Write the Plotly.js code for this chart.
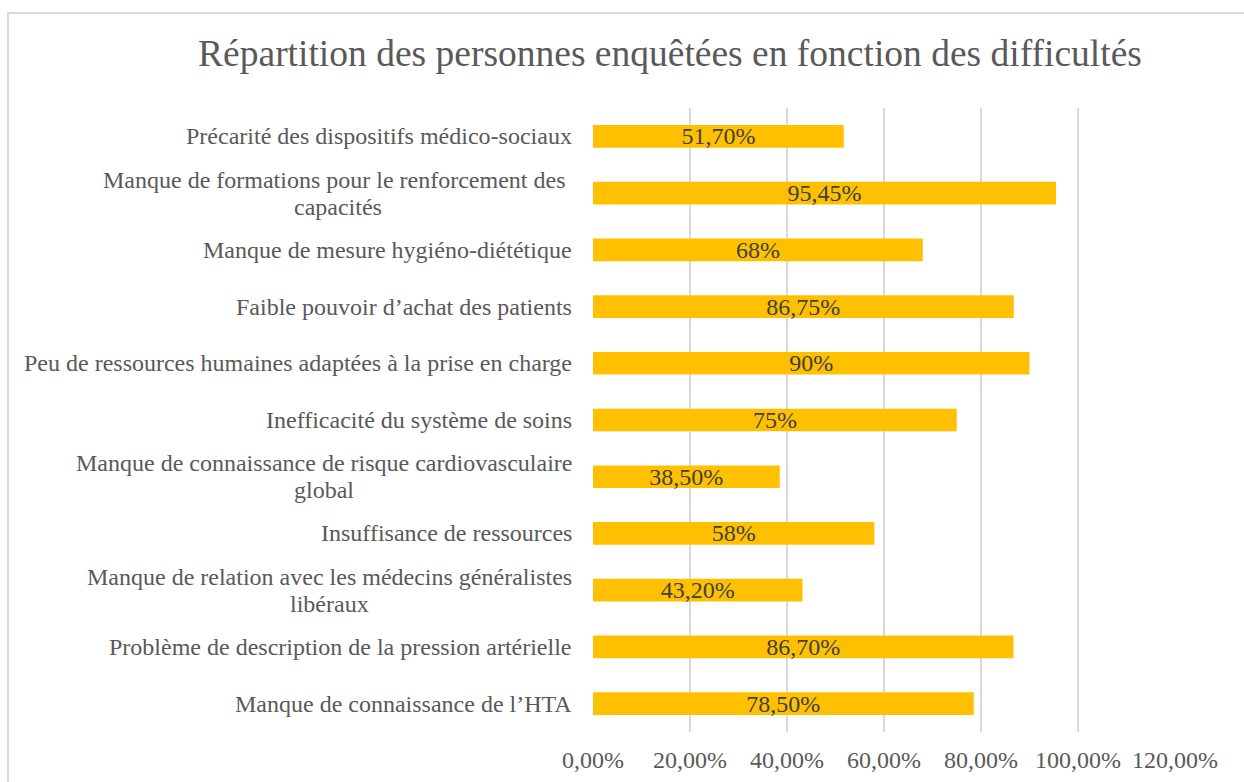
<!DOCTYPE html>
<html>
<head>
<meta charset="utf-8">
<script src="https://cdn.plot.ly/plotly-3.0.1.min.js"></script>
<style>
  html, body { margin: 0; padding: 0; background: #fff; overflow: hidden; }
  #wrap { position: relative; width: 1244px; height: 782px; }
  #chart { position: absolute; left: 0; top: 0; width: 1244px; height: 782px; }
  #frame { position: absolute; left: 7px; top: 12px; width: 1400px; height: 900px;
           border: 2px solid #d9d9d9; pointer-events: none; box-sizing: border-box; }
</style>
</head>
<body>
<div id="wrap">
  <div id="chart"></div>
  <div id="frame"></div>
</div>
<script>
const categories = [
  "Précarité des dispositifs médico-sociaux",
  "Manque de formations pour le renforcement des\u00a0<br>capacités",
  "Manque de mesure hygiéno-diététique",
  "Faible pouvoir d’achat des patients",
  "Peu de ressources humaines adaptées à la prise en charge",
  "Inefficacité du système de soins",
  "Manque de connaissance de risque cardiovasculaire<br>global",
  "Insuffisance de ressources",
  "Manque de relation avec les médecins généralistes<br>libéraux",
  "Problème de description de la pression artérielle",
  "Manque de connaissance de l’HTA"
];
const values = [0.517, 0.9545, 0.68, 0.8675, 0.90, 0.75, 0.385, 0.58, 0.432, 0.867, 0.785];
const valueLabels = ["51,70%", "95,45%", "68%", "86,75%", "90%", "75%", "38,50%", "58%", "43,20%", "86,70%", "78,50%"];
const tickValues = [0, 0.2, 0.4, 0.6, 0.8, 1.0, 1.2];
const tickLabels = ["0,00%", "20,00%", "40,00%", "60,00%", "80,00%", "100,00%", "120,00%"];
const titleText = "Répartition des personnes enquêtées en fonction des difficultés";

const FONT = "'Liberation Serif', 'Times New Roman', serif";
const LABEL_SIZE = 24;
const LINE_GAP = 27;

const trace = {
  type: "bar",
  orientation: "h",
  x: values,
  y: categories,
  width: 0.4,
  marker: { color: "#FFC000" },
  text: valueLabels,
  texttemplate: "%{text}",
  textposition: "inside",
  insidetextanchor: "middle",
  textangle: 0,
  constraintext: "none",
  cliponaxis: false,
  textfont: { family: FONT, size: LABEL_SIZE, color: "#404040" },
  hoverinfo: "skip"
};

// measure text width to center wrapped lines under the widest line (like Excel)
const ctx = document.createElement("canvas").getContext("2d");
ctx.font = LABEL_SIZE + "px " + FONT;
const annotations = [];
categories.forEach(c => {
  const lines = c.split("<br>");
  const widths = lines.map(l => ctx.measureText(l).width);
  const maxW = Math.max(...widths);
  const n = lines.length;
  lines.forEach((l, i) => {
    annotations.push({
      xref: "paper", yref: "y",
      x: 0, y: c,
      xanchor: "center", yanchor: "middle",
      xshift: -21 - maxW / 2,
      yshift: ((n - 1) / 2 - i) * LINE_GAP,
      text: l,
      showarrow: false,
      font: { family: FONT, size: LABEL_SIZE, color: "#595959" }
    });
  });
});

const layout = {
  width: 1244, height: 782,
  paper_bgcolor: "#ffffff",
  plot_bgcolor: "#ffffff",
  margin: { l: 593, r: 69, t: 108, b: 50, pad: 0 },
  showlegend: false,
  title: {
    text: titleText,
    xref: "container", yref: "container",
    x: 670 / 1244, xanchor: "center",
    y: 1 - 53 / 782, yanchor: "middle",
    font: { family: FONT, size: 37.5, color: "#595959" }
  },
  xaxis: {
    range: [0, 1.2],
    tickvals: tickValues,
    ticktext: tickLabels,
    showgrid: true,
    gridcolor: "#d9d9d9",
    gridwidth: 2,
    zeroline: false,
    showline: false,
    ticks: "",
    ticklabelstandoff: 11,
    tickfont: { family: FONT, size: LABEL_SIZE, color: "#595959" },
    fixedrange: true
  },
  yaxis: {
    type: "category",
    autorange: "reversed",
    showticklabels: false,
    showgrid: false,
    zeroline: false,
    showline: false,
    ticks: "",
    fixedrange: true
  },
  annotations: annotations,
  bargap: 0.6
};

Plotly.newPlot("chart", [trace], layout, { displayModeBar: false, staticPlot: true });
</script>
</body>
</html>
